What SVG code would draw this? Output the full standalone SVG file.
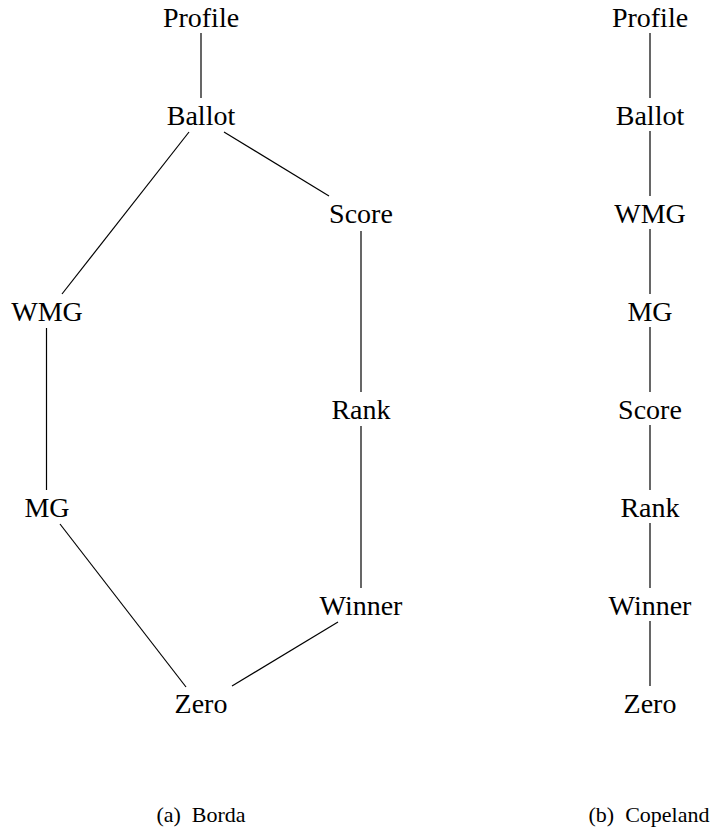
<svg xmlns="http://www.w3.org/2000/svg" width="717" height="832" viewBox="0 0 717 832">
<style>
text{font-family:"Liberation Serif","DejaVu Serif",serif;fill:#000;text-anchor:middle}
.n{font-size:28px}
.c{font-size:22px}
line{stroke:#000;stroke-width:1.2}
</style>
<rect width="717" height="832" fill="#fff"/>
<g id="connectors">
<line x1="201" y1="33" x2="201" y2="98"/>
<line x1="189" y1="132" x2="62" y2="294"/>
<line x1="224" y1="132" x2="329" y2="196"/>
<line x1="361" y1="231" x2="361" y2="392"/>
<line x1="46.5" y1="328" x2="46.5" y2="490"/>
<line x1="361" y1="426" x2="361" y2="588"/>
<line x1="60" y1="524" x2="186" y2="687"/>
<line x1="338" y1="622" x2="232" y2="686"/>
<line x1="650" y1="33" x2="650" y2="98"/>
<line x1="650" y1="131" x2="650" y2="196"/>
<line x1="650" y1="229" x2="650" y2="294"/>
<line x1="650" y1="327" x2="650" y2="392"/>
<line x1="650" y1="425" x2="650" y2="490"/>
<line x1="650" y1="523" x2="650" y2="588"/>
<line x1="650" y1="621" x2="650" y2="686"/>
</g>
<g id="a-profile"><text class="n" x="201" y="27">Profile</text></g>
<g id="a-ballot"><text class="n" x="201" y="125">Ballot</text></g>
<g id="a-score"><text class="n" x="361" y="223">Score</text></g>
<g id="a-wmg"><text class="n" x="47" y="321">WMG</text></g>
<g id="a-rank"><text class="n" x="361" y="419">Rank</text></g>
<g id="a-mg"><text class="n" x="47" y="517">MG</text></g>
<g id="a-winner"><text class="n" x="361" y="615">Winner</text></g>
<g id="a-zero"><text class="n" x="201" y="713">Zero</text></g>
<g id="b-profile"><text class="n" x="650" y="27">Profile</text></g>
<g id="b-ballot"><text class="n" x="650" y="125">Ballot</text></g>
<g id="b-wmg"><text class="n" x="650" y="223">WMG</text></g>
<g id="b-mg"><text class="n" x="650" y="321">MG</text></g>
<g id="b-score"><text class="n" x="650" y="419">Score</text></g>
<g id="b-rank"><text class="n" x="650" y="517">Rank</text></g>
<g id="b-winner"><text class="n" x="650" y="615">Winner</text></g>
<g id="b-zero"><text class="n" x="650" y="713">Zero</text></g>
<g id="captions">
<text class="c" x="201" y="822" xml:space="preserve">(a)  Borda</text>
<text class="c" x="649" y="822" xml:space="preserve">(b)  Copeland</text>
</g>
</svg>
